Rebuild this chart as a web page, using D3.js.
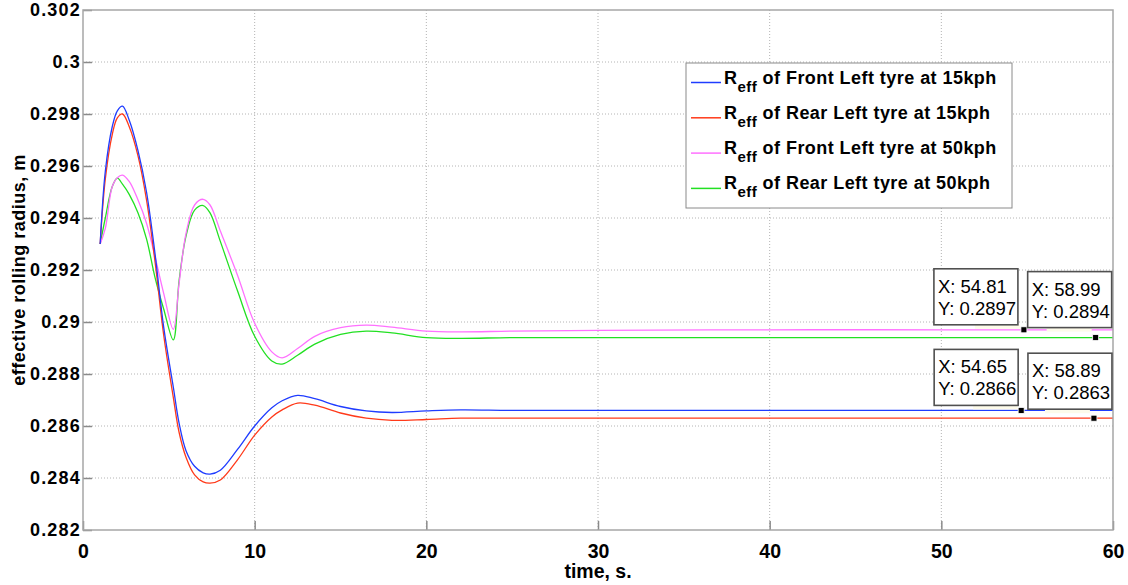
<!DOCTYPE html>
<html>
<head>
<meta charset="utf-8">
<script src="https://cdn.jsdelivr.net/npm/d3@7"></script>
<style>
  body { margin: 0; background: #fff; }
  text { font-family: "Liberation Sans", Arial, sans-serif; }
</style>
</head>
<body>
<div id="chart"></div>
<script>
// time samples (s)
const time = [1, 1.3, 1.7, 2.0, 2.3, 2.7, 3.2, 3.7, 4.2, 4.7, 5.26, 5.6, 6.0, 6.5, 7.0, 7.4, 8, 9, 10, 11, 11.6, 12.5, 13.5, 15, 16.5, 18, 20, 22, 25, 30, 40, 50, 60];

// effective rolling radius (m)
const rFrontLeft15 = [0.2930, 0.2958, 0.2975, 0.29812, 0.2983, 0.29775, 0.2966, 0.2950, 0.2926, 0.2898, 0.2875, 0.2861, 0.28505, 0.28445, 0.2842, 0.28415, 0.2843, 0.2851, 0.2860, 0.2867, 0.28697, 0.28718, 0.28705, 0.28675, 0.28658, 0.28652, 0.28658, 0.28662, 0.2866, 0.2866, 0.2866, 0.2866, 0.2866];
const rRearLeft15 = [0.2930, 0.2955, 0.2972, 0.29785, 0.2980, 0.2975, 0.2964, 0.2947, 0.2923, 0.2895, 0.2871, 0.28575, 0.2848, 0.28412, 0.28385, 0.2838, 0.28392, 0.2847, 0.28565, 0.28635, 0.28662, 0.28688, 0.2868, 0.2865, 0.2863, 0.28622, 0.28625, 0.2863, 0.2863, 0.2863, 0.2863, 0.2863, 0.2863];
const rFrontLeft50 = [0.2930, 0.2936, 0.2952, 0.29555, 0.29565, 0.2954, 0.2947, 0.2938, 0.2925, 0.2911, 0.28972, 0.2915, 0.2934, 0.2945, 0.29472, 0.2945, 0.2935, 0.2918, 0.28995, 0.28885, 0.28862, 0.28898, 0.28945, 0.28978, 0.28988, 0.2898, 0.28965, 0.28962, 0.28965, 0.28968, 0.2897, 0.2897, 0.2897];
const rRearLeft50 = [0.2930, 0.2940, 0.2952, 0.29553, 0.2953, 0.2949, 0.2942, 0.2932, 0.2917, 0.2905, 0.28931, 0.2916, 0.2933, 0.2943, 0.29448, 0.2942, 0.2931, 0.2912, 0.28945, 0.2885, 0.28838, 0.28872, 0.28915, 0.28952, 0.28965, 0.28958, 0.2894, 0.28937, 0.2894, 0.2894, 0.2894, 0.2894, 0.2894];

const seriesNames = ["of Front Left tyre at 15kph", "of Rear Left tyre at 15kph", "of Front Left tyre at 50kph", "of Rear Left tyre at 50kph"];
const seriesColors = ["#1f3cff", "#ff3a1a", "#ff70ff", "#22e022"];

const xTicks = [0, 10, 20, 30, 40, 50, 60];
const yTicks = [0.282, 0.284, 0.286, 0.288, 0.29, 0.292, 0.294, 0.296, 0.298, 0.3, 0.302];

// data tips
const tipX = [54.81, 58.99, 54.65, 58.89];
const tipY = [0.2897, 0.2894, 0.2866, 0.2863];

const width = 1128, height = 585;
const margin = { top: 10, right: 15, bottom: 55, left: 83 };

const svg = d3.select('#chart')
  .append('svg')
    .attr('width', width)
    .attr('height', height);

const x = d3.scaleLinear().domain([0, 60]).range([margin.left, width - margin.right]);
const y = d3.scaleLinear().domain([0.282, 0.302]).range([height - margin.bottom, margin.top]);

// grid
svg.append('g')
  .selectAll('line')
  .data(xTicks.slice(1, -1))
  .join('line')
    .attr('x1', d => x(d)).attr('x2', d => x(d))
    .attr('y1', y(0.302)).attr('y2', y(0.282))
    .attr('stroke', '#b4b4b4')
    .attr('stroke-dasharray', '1,2');

svg.append('g')
  .selectAll('line')
  .data(yTicks.slice(1, -1))
  .join('line')
    .attr('x1', x(0)).attr('x2', x(60))
    .attr('y1', d => y(d)).attr('y2', d => y(d))
    .attr('stroke', '#b4b4b4')
    .attr('stroke-dasharray', '1,2');

// curves
const allSeries = [rFrontLeft15, rRearLeft15, rFrontLeft50, rRearLeft50];
const line = d3.line()
  .x(d => x(d[0]))
  .y(d => y(d[1]))
  .curve(d3.curveCatmullRom.alpha(0.5));

const plot = svg.append('g');
// green/magenta first, red/blue on top
[3, 2, 1, 0].forEach(i => {
  plot.append('path')
    .datum(time.map((t, j) => [t, allSeries[i][j]]))
    .attr('fill', 'none')
    .attr('stroke', seriesColors[i])
    .attr('stroke-width', 1.3)
    .attr('d', line);
});

// axes
const xAxis = d3.axisBottom(x).tickValues(xTicks).tickSize(-9).tickPadding(14).tickFormat(d3.format('d'));
const yAxis = d3.axisLeft(y).tickValues(yTicks).tickSize(-9).tickPadding(12).tickFormat(d3.format('~g'));

const gx = svg.append('g')
  .attr('transform', `translate(0,${y(0.282)})`)
  .call(xAxis);
const gy = svg.append('g')
  .attr('transform', `translate(${x(0)},0)`)
  .call(yAxis);

[gx, gy].forEach(g => {
  g.select('.domain').remove();
  g.selectAll('.tick line').attr('stroke', '#8a8a8a').attr('stroke-width', 1.5);
});
gx.selectAll('.tick text')
  .attr('font-family', '"Liberation Sans Narrow", "Arial Narrow", sans-serif')
  .attr('font-size', 19.5)
  .attr('font-weight', 'bold')
  .attr('fill', '#000')
  .attr('dy', '0.71em');
gy.selectAll('.tick text')
  .attr('font-size', 18)
  .attr('font-weight', 'bold')
  .attr('letter-spacing', 1.2)
  .attr('fill', '#000')
  .attr('x', -2);

// box
svg.append('rect')
  .attr('x', x(0)).attr('y', y(0.302))
  .attr('width', x(60) - x(0))
  .attr('height', y(0.282) - y(0.302))
  .attr('fill', 'none')
  .attr('stroke', '#a6a6a6')
  .attr('stroke-width', 1.5);

// axis titles
svg.append('text')
  .attr('x', (x(0) + x(60)) / 2)
  .attr('y', 578)
  .attr('text-anchor', 'middle')
  .attr('font-family', '"Liberation Sans Narrow", "Arial Narrow", sans-serif')
  .attr('font-size', 19.5)
  .attr('font-weight', 'bold')
  .text('time, s.');

svg.append('text')
  .attr('transform', `translate(25,${(y(0.282) + y(0.302)) / 2}) rotate(-90)`)
  .attr('text-anchor', 'middle')
  .attr('font-size', 18)
  .attr('font-weight', 'bold')
  .attr('letter-spacing', 0.5)
  .text('effective rolling radius, m');

// legend
const legend = svg.append('g').attr('transform', 'translate(686,63)');
legend.append('rect')
  .attr('width', 326).attr('height', 145)
  .attr('fill', '#fff')
  .attr('stroke', '#8a8a8a')
  .attr('stroke-width', 1);

const rows = legend.selectAll('g.row')
  .data(seriesNames)
  .join('g')
    .attr('class', 'row')
    .attr('transform', (d, i) => `translate(0,${19.5 + i * 35.3})`);

rows.append('line')
  .attr('x1', 5).attr('x2', 35)
  .attr('stroke', (d, i) => seriesColors[i])
  .attr('stroke-width', 1.5);

const lt = rows.append('text')
  .attr('x', 38).attr('y', 1)
  .attr('font-size', 18)
  .attr('font-weight', 'bold')
  .attr('letter-spacing', 0.45);
lt.append('tspan').text('R');
lt.append('tspan').attr('dy', 8).attr('font-size', 15).text('eff');
lt.append('tspan').attr('dy', -8).text(d => ' ' + d);

// data tips
const tipBoxOffsets = [[-90, -61], [-68, -66], [-87, -61], [-66, -65]];
const tipShadowOffsets = [41, 19, 39, 17];

const tips = svg.append('g')
  .selectAll('g')
  .data(tipX.map((t, i) => ({ t, v: tipY[i], i })))
  .join('g')
    .attr('transform', d => `translate(${x(d.t)},${y(d.v)})`);

tips.append('rect')
  .attr('x', d => tipBoxOffsets[d.i][0] + tipShadowOffsets[d.i])
  .attr('y', d => tipBoxOffsets[d.i][1] + 56)
  .attr('width', 45).attr('height', 4)
  .attr('fill', '#fdfbea');

tips.append('rect')
  .attr('x', d => tipBoxOffsets[d.i][0])
  .attr('y', d => tipBoxOffsets[d.i][1])
  .attr('width', 84).attr('height', 56)
  .attr('fill', '#fff')
  .attr('stroke', '#505050')
  .attr('stroke-width', 1.6);

const tt = tips.append('text')
  .attr('font-family', 'Lato, "Open Sans", sans-serif')
  .attr('font-size', 18.5)
  .attr('fill', '#000');
tt.append('tspan')
  .attr('x', d => tipBoxOffsets[d.i][0] + 4)
  .attr('y', d => tipBoxOffsets[d.i][1] + 24)
  .text(d => 'X: ' + d.t);
tt.append('tspan')
  .attr('x', d => tipBoxOffsets[d.i][0] + 4)
  .attr('y', d => tipBoxOffsets[d.i][1] + 46)
  .text(d => 'Y: ' + d.v);

tips.append('rect')
  .attr('x', -3).attr('y', -3)
  .attr('width', 6).attr('height', 6)
  .attr('fill', '#000')
  .attr('stroke', '#fff')
  .attr('stroke-width', 0.8);
</script>
</body>
</html>
